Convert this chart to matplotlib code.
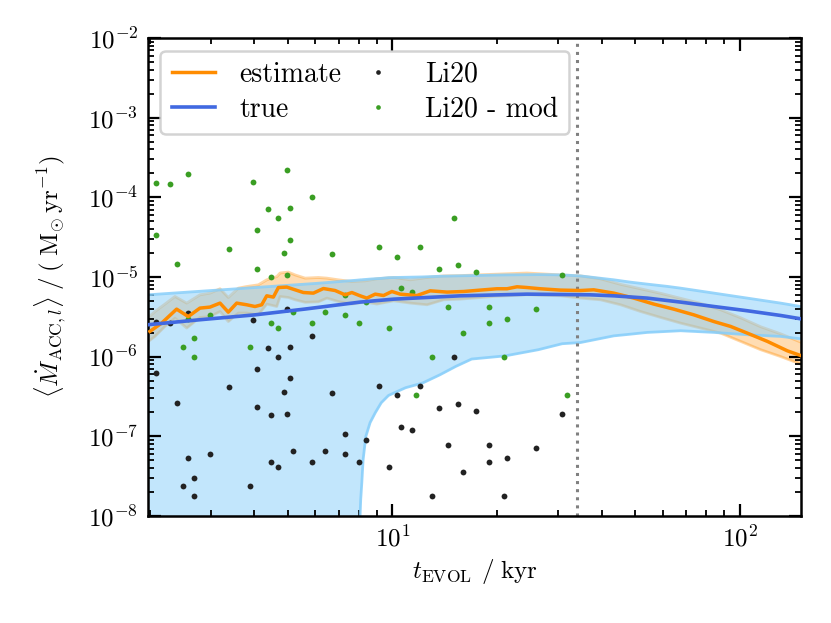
import matplotlib
matplotlib.use("Agg")
import matplotlib.pyplot as plt
from matplotlib.ticker import FuncFormatter, LogLocator
import numpy as np

plt.rcParams["font.family"] = "serif"
plt.rcParams["font.serif"] = ["cmr10"]
plt.rcParams["mathtext.fontset"] = "cm"
plt.rcParams["axes.formatter.use_mathtext"] = True

# --- Li20 accretion rates (black) ---
li20_t = [2.08, 2.29, 2.58, 3.98, 4.97, 5.88, 4.37, 5.08, 4.68, 2.08, 4.08, 5.08, 3.38,
          4.88, 6.69, 2.39, 4.08, 4.47, 4.97, 7.28, 2.98, 2.58, 5.18, 6.39, 7.28, 4.47,
          4.68, 5.88, 8.02, 2.68, 2.49, 3.88, 2.68, 15.0, 9.17, 12.0, 10.27, 13.6, 15.4,
          17.4, 30.8, 10.6, 11.4, 8.38, 14.4, 18.9, 25.9, 9.78, 18.9, 21.4, 16.0, 13.0, 20.9]
li20_m = [2.73e-6, 2.63e-6, 3.55e-6, 2.84e-6, 4.01e-6, 1.82e-6, 1.28e-6, 1.32e-6, 1.00e-6,
          6.14e-7, 6.97e-7, 5.31e-7, 4.09e-7, 3.55e-7, 3.48e-7, 2.61e-7, 2.30e-7, 1.82e-7,
          1.88e-7, 1.07e-7, 5.91e-8, 5.33e-8, 6.52e-8, 6.52e-8, 5.91e-8, 4.75e-8, 4.14e-8,
          4.75e-8, 4.75e-8, 2.96e-8, 2.37e-8, 2.37e-8, 1.78e-8, 9.93e-7, 4.30e-7, 4.30e-7,
          3.25e-7, 2.23e-7, 2.56e-7, 2.07e-7, 1.88e-7, 1.29e-7, 1.18e-7, 8.85e-8, 7.67e-8,
          7.67e-8, 7.11e-8, 4.14e-8, 4.75e-8, 5.33e-8, 3.56e-8, 1.78e-8, 1.78e-8]

# --- Li20 - mod (green) ---
mod_t = [2.08, 2.29, 2.58, 3.98, 4.97, 5.88, 4.37, 5.08, 4.68, 2.08, 4.08, 5.08, 3.38,
         4.88, 6.69, 2.39, 4.08, 4.47, 4.97, 7.28, 2.98, 2.58, 5.18, 6.39, 7.28, 4.47,
         4.68, 5.88, 8.02, 2.68, 2.49, 3.88, 2.68, 15.0, 9.17, 12.0, 10.27, 13.6, 15.4,
         17.4, 30.8, 10.6, 11.4, 8.38, 14.4, 18.9, 25.9, 9.78, 18.9, 21.4, 16.0, 13.0, 20.9,
         11.7, 31.8]
mod_m = [1.50e-4, 1.47e-4, 1.98e-4, 1.57e-4, 2.23e-4, 1.01e-4, 7.09e-5, 7.30e-5, 5.56e-5,
         3.37e-5, 3.86e-5, 2.94e-5, 2.27e-5, 1.97e-5, 1.95e-5, 1.45e-5, 1.27e-5, 1.01e-5,
         1.05e-5, 5.91e-6, 3.32e-6, 2.96e-6, 3.61e-6, 3.61e-6, 3.28e-6, 2.63e-6, 2.30e-6,
         2.63e-6, 2.63e-6, 1.69e-6, 1.32e-6, 1.32e-6, 9.86e-7, 5.52e-5, 2.39e-5, 2.39e-5,
         1.80e-5, 1.25e-5, 1.41e-5, 1.15e-5, 1.05e-5, 7.23e-6, 6.56e-6, 4.91e-6, 4.25e-6,
         4.25e-6, 3.94e-6, 2.30e-6, 2.63e-6, 2.96e-6, 1.97e-6, 9.86e-7, 9.86e-7,
         3.29e-7, 3.29e-7]

# --- estimate (orange) ---
est_t = [2.003, 2.165, 2.391, 2.583, 2.791, 2.983, 3.188, 3.368, 3.561, 3.805, 4.020, 4.203,
         4.345, 4.540, 4.694, 4.963, 5.243, 5.540, 5.919, 6.326, 6.836, 7.306, 7.638, 8.071,
         8.437, 8.917, 9.421, 9.96, 10.52, 11.76, 12.84, 14.35, 16.02, 17.89, 19.99, 21.36,
         22.83, 24.39, 26.65, 30.43, 34.75, 37.95, 43.35, 49.5, 56.5, 64.5, 73.7, 84.2,
         94.0, 105.0, 120.0, 137.0, 149.6]
est_m = [2.07e-6, 2.63e-6, 3.94e-6, 3.18e-6, 4.06e-6, 4.18e-6, 4.69e-6, 3.61e-6, 4.69e-6,
         4.47e-6, 4.25e-6, 4.47e-6, 5.79e-6, 5.58e-6, 7.36e-6, 7.45e-6, 6.89e-6, 6.37e-6,
         6.26e-6, 7.15e-6, 6.75e-6, 5.96e-6, 6.37e-6, 5.79e-6, 5.42e-6, 6.08e-6, 5.84e-6,
         6.56e-6, 6.08e-6, 5.84e-6, 6.69e-6, 6.45e-6, 6.56e-6, 6.83e-6, 7.10e-6, 7.10e-6,
         7.52e-6, 7.36e-6, 7.10e-6, 6.83e-6, 6.75e-6, 6.89e-6, 6.26e-6, 5.42e-6, 4.56e-6,
         3.94e-6, 3.34e-6, 2.75e-6, 2.39e-6, 1.97e-6, 1.55e-6, 1.18e-6, 1.03e-6]

est_band_t = [1.977, 2.071, 2.213, 2.365, 2.556, 2.791, 2.983, 3.188, 3.368, 3.599, 3.805,
              4.110, 4.345, 4.644, 4.747, 5.015, 5.243, 5.603, 6.119, 6.471, 6.988, 7.638,
              8.342, 9.016, 10.07, 11.25, 12.57, 14.03, 15.67, 19.55, 24.39, 30.43, 34.75,
              39.68, 45.32, 51.74, 59.09, 67.47, 77.03, 87.99, 100.5, 114.7, 131.0, 149.6]
est_hi = [3.07e-6, 3.68e-6, 4.56e-6, 5.68e-6, 4.69e-6, 5.96e-6, 6.26e-6, 7.10e-6, 5.52e-6,
          7.23e-6, 7.58e-6, 7.96e-6, 9.20e-6, 1.01e-5, 1.12e-5, 1.15e-5, 1.06e-5, 9.66e-6,
          9.84e-6, 9.66e-6, 9.20e-6, 8.75e-6, 8.93e-6, 9.47e-6, 9.84e-6, 9.20e-6, 9.84e-6,
          1.03e-5, 1.04e-5, 1.08e-5, 1.12e-5, 1.06e-5, 1.03e-5, 9.47e-6, 8.07e-6, 7.10e-6,
          6.23e-6, 5.39e-6, 4.66e-6, 3.87e-6, 3.07e-6, 2.37e-6, 1.93e-6, 1.52e-6]
est_lo = [1.53e-6, 1.79e-6, 2.39e-6, 3.04e-6, 2.28e-6, 3.10e-6, 3.18e-6, 3.68e-6, 2.75e-6,
          3.52e-6, 3.52e-6, 3.34e-6, 4.56e-6, 4.25e-6, 5.68e-6, 5.52e-6, 5.16e-6, 4.80e-6,
          4.87e-6, 5.42e-6, 4.91e-6, 4.56e-6, 4.83e-6, 4.56e-6, 5.01e-6, 4.69e-6, 4.47e-6,
          5.16e-6, 5.26e-6, 5.68e-6, 5.96e-6, 5.79e-6, 5.42e-6, 5.16e-6, 4.47e-6, 3.68e-6,
          3.10e-6, 2.63e-6, 2.28e-6, 1.97e-6, 1.55e-6, 1.22e-6, 1.00e-6, 8.05e-7]

# --- true (blue) ---
true_t = [1.977, 2.791, 4.02, 5.6, 8.07, 10.07, 15.67, 24.39, 37.1, 43.35, 54.1, 67.47,
          84.2, 105.0, 131.0, 149.6]
true_m = [2.51e-6, 2.90e-6, 3.34e-6, 3.95e-6, 4.83e-6, 5.26e-6, 5.79e-6, 6.08e-6, 5.96e-6,
          5.79e-6, 5.42e-6, 4.83e-6, 4.25e-6, 3.76e-6, 3.28e-6, 2.98e-6]

true_band_t = [1.977, 2.79, 4.02, 6.0, 7.9, 8.0, 8.10, 8.16, 8.23, 8.38, 8.62, 8.92, 9.28,
               9.74, 10.9, 12.2, 13.7, 15.2, 16.9, 21.1, 26.3, 30.8, 34.75, 43.35, 48.4,
               54.1, 61.9, 67.47, 84.2, 105.0, 131.0, 149.6]
true_hi = [5.96e-6, 6.6e-6, 7.36e-6, 8.28e-6, 9.1e-6, 9.15e-6, 9.2e-6, 9.2e-6, 9.25e-6,
           9.3e-6, 9.4e-6, 9.5e-6, 9.6e-6, 9.8e-6, 9.9e-6, 1.0e-5, 1.02e-5, 1.03e-5, 1.04e-5,
           1.06e-5, 1.07e-5, 1.06e-5, 1.03e-5, 9.2e-6, 8.6e-6, 8.12e-6, 7.6e-6, 7.23e-6,
           6.26e-6, 5.42e-6, 4.69e-6, 4.25e-6]
true_lo = [1e-9, 1e-9, 1e-9, 1e-9, 1e-9, 4e-9, 1.60e-8, 2.61e-8, 5.07e-8, 9.93e-8, 1.48e-7,
           1.97e-7, 2.63e-7, 3.25e-7, 4.06e-7, 4.65e-7, 5.91e-7, 7.51e-7, 9.31e-7, 1.02e-6,
           1.22e-6, 1.45e-6, 1.50e-6, 1.82e-6, 1.91e-6, 2.01e-6, 2.07e-6, 2.11e-6, 2.01e-6,
           1.88e-6, 1.79e-6, 1.67e-6]

t_cut = 34.0


def pow10_label(v, pos):
    # LaTeX-like 10^n label
    return r"$10^{%d}$" % int(round(np.log10(v)))


fig = plt.figure(figsize=(8.31, 6.23), dpi=100)
ax = fig.add_axes([0.178, 0.172, 0.786, 0.767])

# estimate band, with its edges
ax.fill_between(est_band_t, est_lo, est_hi, color="darkorange", alpha=0.3, lw=0, zorder=1)
ax.plot(est_band_t, est_hi, color="darkorange", alpha=0.35, lw=2, zorder=1.1)
ax.plot(est_band_t, est_lo, color="darkorange", alpha=0.35, lw=2, zorder=1.1)

# true band drawn over it
ax.fill_between(true_band_t, true_lo, true_hi, color="lightskyblue", alpha=0.5, lw=0,
                zorder=1.5)
ax.plot(true_band_t, true_hi, color="lightskyblue", alpha=0.85, lw=2, zorder=1.6)
ax.plot(true_band_t, true_lo, color="lightskyblue", alpha=0.85, lw=2, zorder=1.6)

s_li, = ax.plot(li20_t, li20_m, "o", color="#222222", ms=4.2, mew=0, ls="none",
                label="Li20", zorder=2)
s_mod, = ax.plot(mod_t, mod_m, "o", color="#3a9e23", ms=4.2, mew=0, ls="none",
                 label="Li20 - mod", zorder=2)

l_est, = ax.plot(est_t, est_m, color="darkorange", lw=2.5, label="estimate", zorder=3)
l_true, = ax.plot(true_t, true_m, color="royalblue", lw=2.6, label="true", zorder=3)

ax.axvline(t_cut, color="gray", ls=":", lw=2.2, zorder=2.5)

ax.set_xscale("log")
ax.set_yscale("log")
ax.set_xlim(1.977, 150)
ax.set_ylim(1e-8, 1e-2)

ax.set_xlabel(r"$t_{\mathrm{EVOL}}\;\,/\;\mathrm{kyr}$", fontsize=18, labelpad=4)
ax.set_ylabel(r"$\langle \dot{M}_{\mathrm{ACC},l} \rangle\;/\;(\;\mathrm{M}_{\odot}\,\mathrm{yr}^{-1})$",
              fontsize=18, labelpad=14)

for sp in ax.spines.values():
    sp.set_linewidth(1.8)
ax.tick_params(which="both", direction="in", top=True, right=True, labelsize=18)
ax.tick_params(which="major", length=9, width=1.6, pad=7)
ax.tick_params(which="minor", length=4.5, width=1.3)
ax.yaxis.set_major_locator(LogLocator(base=10, numticks=10))
ax.yaxis.set_minor_locator(LogLocator(base=10, subs=np.arange(2, 10), numticks=20))
ax.xaxis.set_major_formatter(FuncFormatter(pow10_label))
ax.yaxis.set_major_formatter(FuncFormatter(pow10_label))

leg = ax.legend(handles=[l_est, l_true, s_li, s_mod], ncol=2, loc="upper left",
                fontsize=20, handlelength=1.55, handletextpad=0.9, columnspacing=0.55,
                borderaxespad=0.45, labelspacing=0.3, framealpha=0.85, markerscale=0.8)
leg.get_frame().set_linewidth(1.8)

fig.savefig("out.png", dpi=100)
